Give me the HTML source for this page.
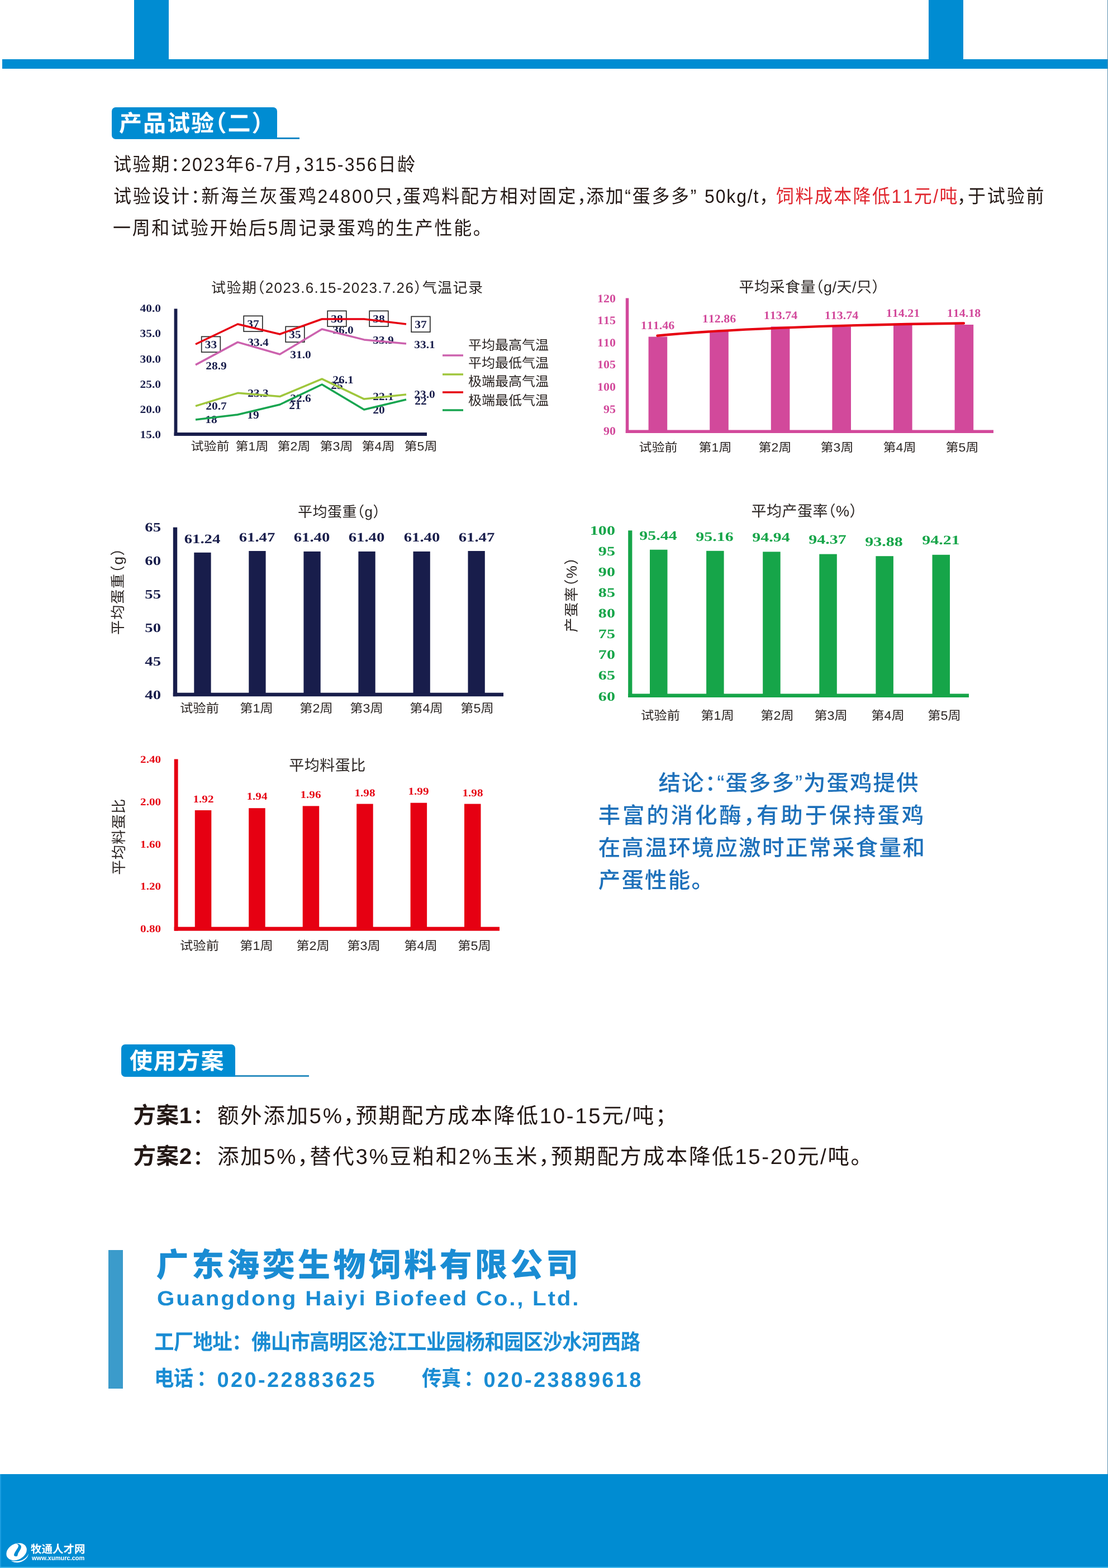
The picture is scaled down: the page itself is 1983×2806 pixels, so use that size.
<!DOCTYPE html>
<html lang="zh-CN"><head><meta charset="utf-8"><title>产品试验（二）</title>
<style>
html,body{margin:0;padding:0}
body{text-rendering:geometricPrecision;width:1983px;height:2806px;position:relative;background:#fff;font-family:"Liberation Sans","Noto Sans CJK SC",sans-serif;color:#231815}
.a{position:absolute}
.t{position:absolute;white-space:nowrap;line-height:1;letter-spacing:var(--ls,0);font-kerning:none}
.h{margin-right:-.5em}
.hr{margin-left:-.5em}
.s{font-family:"Liberation Serif",serif}
.B{font-weight:bold}
#gfx{position:absolute;left:0;top:0;z-index:1}
.t{z-index:2}
#pg{position:absolute;left:0;top:0;width:1983px;height:2806px;overflow:hidden;will-change:transform}
</style></head>
<body>
<div id="pg">
<svg id="gfx" width="1983" height="2806" viewBox="0 0 1983 2806">
<g font-family="Liberation Serif,serif" font-weight="bold" font-size="19.5" fill="#181d4b" text-anchor="middle">
<text transform="translate(377.5 622.6) scale(1.1 1)">33</text>
<text transform="translate(453 585.6) scale(1.1 1)">37</text>
<text transform="translate(528 604.6) scale(1.1 1)">35</text>
<text transform="translate(603 576.6) scale(1.1 1)">38</text>
<text transform="translate(678 576.6) scale(1.1 1)">38</text>
<text transform="translate(753 586.6) scale(1.1 1)">37</text>
<text transform="translate(387 660.6) scale(1.1 1)">28.9</text>
<text transform="translate(462 618.6) scale(1.1 1)">33.4</text>
<text transform="translate(538 641.1) scale(1.1 1)">31.0</text>
<text transform="translate(614 596.6) scale(1.1 1)">36.0</text>
<text transform="translate(686 614.6) scale(1.1 1)">33.9</text>
<text transform="translate(760 622.6) scale(1.1 1)">33.1</text>
<text transform="translate(387 732.6) scale(1.1 1)">20.7</text>
<text transform="translate(462 709.6) scale(1.1 1)">23.3</text>
<text transform="translate(538 718.6) scale(1.1 1)">22.6</text>
<text transform="translate(614 685.6) scale(1.1 1)">26.1</text>
<text transform="translate(686 715.6) scale(1.1 1)">22.1</text>
<text transform="translate(760 711.6) scale(1.1 1)">23.0</text>
<text transform="translate(378 757.1) scale(1.1 1)">18</text>
<text transform="translate(453 748.6) scale(1.1 1)">19</text>
<text transform="translate(528 731.6) scale(1.1 1)">21</text>
<text transform="translate(603 695.6) scale(1.1 1)">25</text>
<text transform="translate(678 739.6) scale(1.1 1)">20</text>
<text transform="translate(753 723.6) scale(1.1 1)">22</text>
</g>
<rect x="360.7" y="602.4" width="33.6" height="27.8" fill="none" stroke="#2a2a2a" stroke-width="1.7"/>
<rect x="436.2" y="565.4" width="33.6" height="27.8" fill="none" stroke="#2a2a2a" stroke-width="1.7"/>
<rect x="511.2" y="584.4" width="33.6" height="27.8" fill="none" stroke="#2a2a2a" stroke-width="1.7"/>
<rect x="586.2" y="556.4" width="33.6" height="27.8" fill="none" stroke="#2a2a2a" stroke-width="1.7"/>
<rect x="661.2" y="556.4" width="33.6" height="27.8" fill="none" stroke="#2a2a2a" stroke-width="1.7"/>
<rect x="736.2" y="566.4" width="33.6" height="27.8" fill="none" stroke="#2a2a2a" stroke-width="1.7"/>
<polyline points="350.0,652.9 425.4,612.4 500.8,634.0 576.2,589.0 651.6,607.9 727.0,615.1" fill="none" stroke="#cc62ae" stroke-width="3.5" stroke-linejoin="round"/>
<polyline points="350.0,726.7 425.4,703.3 500.8,709.6 576.2,678.1 651.6,714.1 727.0,706.0" fill="none" stroke="#9fc63b" stroke-width="3.5" stroke-linejoin="round"/>
<polyline points="350.0,616.0 425.4,580.0 500.8,598.0 576.2,571.0 651.6,571.0 727.0,580.0" fill="none" stroke="#e60012" stroke-width="3.5" stroke-linejoin="round"/>
<polyline points="350.0,751.0 425.4,742.0 500.8,724.0 576.2,688.0 651.6,733.0 727.0,715.0" fill="none" stroke="#18a550" stroke-width="3.5" stroke-linejoin="round"/>
<rect x="311.6" y="552.5" width="5.8" height="227.5" fill="#181d4b"/>
<rect x="311.6" y="774.0" width="452.4" height="6" fill="#181d4b"/>
<path d="M792 636H829" stroke="#cc62ae" stroke-width="3.6"/>
<path d="M792 670H829" stroke="#9fc63b" stroke-width="3.6"/>
<path d="M792 702H829" stroke="#e60012" stroke-width="3.6"/>
<path d="M792 734H829" stroke="#18a550" stroke-width="3.6"/>
<rect x="1160.6" y="602.6" width="33.6" height="169.7" fill="#d2499b"/>
<rect x="1270.2" y="591.5" width="33.6" height="180.8" fill="#d2499b"/>
<rect x="1379.8" y="584.5" width="33.6" height="187.8" fill="#d2499b"/>
<rect x="1489.4" y="584.5" width="33.6" height="187.8" fill="#d2499b"/>
<rect x="1599.0" y="580.8" width="33.6" height="191.5" fill="#d2499b"/>
<rect x="1708.6" y="581.0" width="33.6" height="191.3" fill="#d2499b"/>
<rect x="1119.8" y="533.5" width="5.5" height="241.5" fill="#d2499b"/>
<rect x="1119.8" y="769.5" width="658.2" height="5.5" fill="#d2499b"/>
<path d="M1176.5 600.8C1290 589.5 1500 581 1725 578.5" fill="none" stroke="#e60012" stroke-width="4.4" stroke-linecap="round"/>
<rect x="347.3" y="988.8" width="30.3" height="254.2" fill="#181d4b"/>
<rect x="445.3" y="986.0" width="30.3" height="257.0" fill="#181d4b"/>
<rect x="543.4" y="986.9" width="30.3" height="256.1" fill="#181d4b"/>
<rect x="641.4" y="986.9" width="30.3" height="256.1" fill="#181d4b"/>
<rect x="739.5" y="986.9" width="30.3" height="256.1" fill="#181d4b"/>
<rect x="837.5" y="986.0" width="30.3" height="257.0" fill="#181d4b"/>
<rect x="309.8" y="943.7" width="7.4" height="302.5" fill="#181d4b"/>
<rect x="309.8" y="1239.7" width="591.2" height="6.5" fill="#181d4b"/>
<rect x="1163.0" y="983.7" width="31.5" height="261.9" fill="#16a549"/>
<rect x="1264.1" y="985.8" width="31.5" height="259.8" fill="#16a549"/>
<rect x="1365.2" y="987.4" width="31.5" height="258.2" fill="#16a549"/>
<rect x="1466.3" y="991.6" width="31.5" height="254.0" fill="#16a549"/>
<rect x="1567.4" y="995.2" width="31.5" height="250.4" fill="#16a549"/>
<rect x="1668.5" y="992.8" width="31.5" height="252.8" fill="#16a549"/>
<rect x="1124.2" y="949.3" width="7.2" height="298.7" fill="#16a549"/>
<rect x="1124.2" y="1241.5" width="609.8" height="6.5" fill="#16a549"/>
<rect x="348.8" y="1450.0" width="29.5" height="212.4" fill="#e60012"/>
<rect x="445.2" y="1446.2" width="29.5" height="216.2" fill="#e60012"/>
<rect x="541.7" y="1442.4" width="29.5" height="220.0" fill="#e60012"/>
<rect x="638.2" y="1438.6" width="29.5" height="223.8" fill="#e60012"/>
<rect x="734.6" y="1436.7" width="29.5" height="225.7" fill="#e60012"/>
<rect x="831.0" y="1438.6" width="29.5" height="223.8" fill="#e60012"/>
<rect x="311.7" y="1358.5" width="6.9" height="307.2" fill="#e60012"/>
<rect x="311.7" y="1658.7" width="582.3" height="7" fill="#e60012"/>
<g transform="translate(29.6 2776.9) rotate(-28)"><ellipse cx="0" cy="0" rx="19.2" ry="14.3" fill="#fff"/></g>
<g transform="translate(0 2750) scale(0.049285)"><path d="M555 258C640 240 740 270 765 340C790 420 700 520 660 600C640 650 640 690 625 705C590 720 520 715 510 680C500 640 540 560 590 490C640 420 690 350 660 300C640 270 600 258 555 258Z" fill="#008cd2"/><path d="M1040 600C1010 690 940 790 800 850C680 895 520 900 400 872C480 935 620 955 730 925C900 875 1020 760 1040 600Z" fill="#fff"/></g>
</svg>
<div class="a" style="left:3.7px;top:106.3px;width:1979.3px;height:16.5px;background:#008cd2;"></div>
<div class="a" style="left:1981.5px;top:0.0px;width:1.5px;height:2638.2px;background:#5a8fb0;"></div>
<div class="a" style="left:240.2px;top:0.0px;width:61.6px;height:122.8px;background:#008cd2;"></div>
<div class="a" style="left:1662.0px;top:0.0px;width:62.0px;height:122.8px;background:#008cd2;"></div>
<div class="a" style="left:199.7px;top:192.0px;width:296.1px;height:57.0px;background:#008cd2;border-radius:7px 7px 0 7px"></div>
<div class="a" style="left:495.0px;top:246.4px;width:41.0px;height:2.6px;background:#1688c6;"></div>
<div class="t" style="left:213.0px;top:200.7px;font-size:41px;color:#fff;--ls:2px;font-weight:bold">产品试验<span class="hr">（</span>二<span class="h">）</span></div>
<div class="t" style="left:203.0px;top:278.1px;font-size:34px;--ls:2.4px;transform-origin:0 0;transform:scaleX(0.94)">试验期<span class="h">：</span>2023年6-7月<span class="h">，</span>315-356日龄</div>
<div class="t" style="left:203.0px;top:335.4px;font-size:34px;--ls:2.9px;transform-origin:0 0;transform:scaleX(0.94)">试验设计<span class="h">：</span>新海兰灰蛋鸡24800只<span class="h">，</span></div>
<div class="t" style="left:721.0px;top:335.4px;font-size:34px;--ls:2.9px;transform-origin:0 0;transform:scaleX(0.94)">蛋鸡料配方相对固定<span class="h">，</span></div>
<div class="t" style="left:1049.0px;top:335.4px;font-size:34px;--ls:2.9px;transform-origin:0 0;transform:scaleX(0.94)">添加“蛋多多”</div>
<div class="t" style="left:1261.0px;top:335.4px;font-size:34px;--ls:2px;transform-origin:0 0;transform:scaleX(0.94)">50kg/t<span class="h">，</span></div>
<div class="t" style="left:1388.5px;top:335.4px;font-size:34px;color:#e0262e;--ls:2.6px;transform-origin:0 0;transform:scaleX(0.94)">饲料成本降低11元/吨</div>
<div class="t" style="left:1713.0px;top:335.4px;font-size:34px;--ls:3.1px;transform-origin:0 0;transform:scaleX(0.94)"><span class="h">，</span>于试验前</div>
<div class="t" style="left:202.0px;top:392.1px;font-size:34px;--ls:2.9px;transform-origin:0 0;transform:scaleX(0.94)">一周和试验开始后5周记录蛋鸡的生产性能<span class="h">。</span></div>
<div class="t" style="left:621.7px;top:501.6px;font-size:26px;color:#2b2523;--ls:1.4px;transform:translateX(-50%)">试验期<span class="hr">（</span>2023.6.15-2023.7.26<span class="h">）</span>气温记录</div>
<div class="t s B" style="left:288.0px;top:543.3px;font-size:19.5px;color:#181d4b;transform-origin:100% 0;transform:translateX(-100%) scaleX(1.1)">40.0</div>
<div class="t s B" style="left:288.0px;top:588.4px;font-size:19.5px;color:#181d4b;transform-origin:100% 0;transform:translateX(-100%) scaleX(1.1)">35.0</div>
<div class="t s B" style="left:288.0px;top:633.5px;font-size:19.5px;color:#181d4b;transform-origin:100% 0;transform:translateX(-100%) scaleX(1.1)">30.0</div>
<div class="t s B" style="left:288.0px;top:678.6px;font-size:19.5px;color:#181d4b;transform-origin:100% 0;transform:translateX(-100%) scaleX(1.1)">25.0</div>
<div class="t s B" style="left:288.0px;top:723.7px;font-size:19.5px;color:#181d4b;transform-origin:100% 0;transform:translateX(-100%) scaleX(1.1)">20.0</div>
<div class="t s B" style="left:288.0px;top:768.8px;font-size:19.5px;color:#181d4b;transform-origin:100% 0;transform:translateX(-100%) scaleX(1.1)">15.0</div>
<div class="t" style="left:375.7px;top:789.1px;font-size:21.5px;color:#2b2523;transform-origin:50% 0;transform:translateX(-50%) scaleX(1.07)">试验前</div>
<div class="t" style="left:451.0px;top:789.1px;font-size:21.5px;color:#2b2523;transform-origin:50% 0;transform:translateX(-50%) scaleX(1.07)">第1周</div>
<div class="t" style="left:526.0px;top:789.1px;font-size:21.5px;color:#2b2523;transform-origin:50% 0;transform:translateX(-50%) scaleX(1.07)">第2周</div>
<div class="t" style="left:601.6px;top:789.1px;font-size:21.5px;color:#2b2523;transform-origin:50% 0;transform:translateX(-50%) scaleX(1.07)">第3周</div>
<div class="t" style="left:677.0px;top:789.1px;font-size:21.5px;color:#2b2523;transform-origin:50% 0;transform:translateX(-50%) scaleX(1.07)">第4周</div>
<div class="t" style="left:752.5px;top:789.1px;font-size:21.5px;color:#2b2523;transform-origin:50% 0;transform:translateX(-50%) scaleX(1.07)">第5周</div>
<div class="t" style="left:838.0px;top:606.9px;font-size:24px;color:#2b2523">平均最高气温</div>
<div class="t" style="left:838.0px;top:639.4px;font-size:24px;color:#2b2523">平均最低气温</div>
<div class="t" style="left:838.0px;top:671.9px;font-size:24px;color:#2b2523">极端最高气温</div>
<div class="t" style="left:838.0px;top:705.9px;font-size:24px;color:#2b2523">极端最低气温</div>
<div class="t" style="left:1448.5px;top:501.2px;font-size:27px;color:#2b2523;--ls:0.5px;transform:translateX(-50%)">平均采食量<span class="hr">（</span>g/天/只<span class="h">）</span></div>
<div class="t s B" style="left:1101.5px;top:524.8px;font-size:20.5px;color:#d2499b;transform-origin:100% 0;transform:translateX(-100%) scaleX(1.07)">120</div>
<div class="t s B" style="left:1101.5px;top:564.3px;font-size:20.5px;color:#d2499b;transform-origin:100% 0;transform:translateX(-100%) scaleX(1.07)">115</div>
<div class="t s B" style="left:1101.5px;top:603.9px;font-size:20.5px;color:#d2499b;transform-origin:100% 0;transform:translateX(-100%) scaleX(1.07)">110</div>
<div class="t s B" style="left:1101.5px;top:643.4px;font-size:20.5px;color:#d2499b;transform-origin:100% 0;transform:translateX(-100%) scaleX(1.07)">105</div>
<div class="t s B" style="left:1101.5px;top:683.0px;font-size:20.5px;color:#d2499b;transform-origin:100% 0;transform:translateX(-100%) scaleX(1.07)">100</div>
<div class="t s B" style="left:1101.5px;top:722.5px;font-size:20.5px;color:#d2499b;transform-origin:100% 0;transform:translateX(-100%) scaleX(1.07)">95</div>
<div class="t s B" style="left:1101.5px;top:762.1px;font-size:20.5px;color:#d2499b;transform-origin:100% 0;transform:translateX(-100%) scaleX(1.07)">90</div>
<div class="t s B" style="left:1177.4px;top:573.2px;font-size:20.5px;color:#d2499b;transform-origin:50% 0;transform:translateX(-50%) scaleX(1.07)">111.46</div>
<div class="t s B" style="left:1287.0px;top:561.1px;font-size:20.5px;color:#d2499b;transform-origin:50% 0;transform:translateX(-50%) scaleX(1.07)">112.86</div>
<div class="t s B" style="left:1396.6px;top:555.4px;font-size:20.5px;color:#d2499b;transform-origin:50% 0;transform:translateX(-50%) scaleX(1.07)">113.74</div>
<div class="t s B" style="left:1506.2px;top:555.4px;font-size:20.5px;color:#d2499b;transform-origin:50% 0;transform:translateX(-50%) scaleX(1.07)">113.74</div>
<div class="t s B" style="left:1615.8px;top:550.6px;font-size:20.5px;color:#d2499b;transform-origin:50% 0;transform:translateX(-50%) scaleX(1.07)">114.21</div>
<div class="t s B" style="left:1725.4px;top:550.6px;font-size:20.5px;color:#d2499b;transform-origin:50% 0;transform:translateX(-50%) scaleX(1.07)">114.18</div>
<div class="t" style="left:1178.0px;top:791.1px;font-size:21.5px;color:#2b2523;transform-origin:50% 0;transform:translateX(-50%) scaleX(1.07)">试验前</div>
<div class="t" style="left:1280.0px;top:791.1px;font-size:21.5px;color:#2b2523;transform-origin:50% 0;transform:translateX(-50%) scaleX(1.07)">第1周</div>
<div class="t" style="left:1387.0px;top:791.1px;font-size:21.5px;color:#2b2523;transform-origin:50% 0;transform:translateX(-50%) scaleX(1.07)">第2周</div>
<div class="t" style="left:1497.7px;top:791.1px;font-size:21.5px;color:#2b2523;transform-origin:50% 0;transform:translateX(-50%) scaleX(1.07)">第3周</div>
<div class="t" style="left:1609.7px;top:791.1px;font-size:21.5px;color:#2b2523;transform-origin:50% 0;transform:translateX(-50%) scaleX(1.07)">第4周</div>
<div class="t" style="left:1722.0px;top:791.1px;font-size:21.5px;color:#2b2523;transform-origin:50% 0;transform:translateX(-50%) scaleX(1.07)">第5周</div>
<div class="t" style="left:607.0px;top:903.4px;font-size:26px;color:#2b2523;--ls:0.5px;transform:translateX(-50%)">平均蛋重<span class="hr">（</span>g<span class="h">）</span></div>
<div class="t s B" style="left:288.0px;top:932.3px;font-size:23px;color:#181d4b;transform-origin:100% 0;transform:translateX(-100%) scaleX(1.25)">65</div>
<div class="t s B" style="left:288.0px;top:992.3px;font-size:23px;color:#181d4b;transform-origin:100% 0;transform:translateX(-100%) scaleX(1.25)">60</div>
<div class="t s B" style="left:288.0px;top:1052.3px;font-size:23px;color:#181d4b;transform-origin:100% 0;transform:translateX(-100%) scaleX(1.25)">55</div>
<div class="t s B" style="left:288.0px;top:1112.3px;font-size:23px;color:#181d4b;transform-origin:100% 0;transform:translateX(-100%) scaleX(1.25)">50</div>
<div class="t s B" style="left:288.0px;top:1172.3px;font-size:23px;color:#181d4b;transform-origin:100% 0;transform:translateX(-100%) scaleX(1.25)">45</div>
<div class="t s B" style="left:288.0px;top:1232.3px;font-size:23px;color:#181d4b;transform-origin:100% 0;transform:translateX(-100%) scaleX(1.25)">40</div>
<div class="t s B" style="left:362.3px;top:954.2px;font-size:23.2px;color:#181d4b;transform-origin:50% 0;transform:translateX(-50%) scaleX(1.24)">61.24</div>
<div class="t s B" style="left:460.3px;top:951.2px;font-size:23.2px;color:#181d4b;transform-origin:50% 0;transform:translateX(-50%) scaleX(1.24)">61.47</div>
<div class="t s B" style="left:558.4px;top:951.2px;font-size:23.2px;color:#181d4b;transform-origin:50% 0;transform:translateX(-50%) scaleX(1.24)">61.40</div>
<div class="t s B" style="left:656.4px;top:951.2px;font-size:23.2px;color:#181d4b;transform-origin:50% 0;transform:translateX(-50%) scaleX(1.24)">61.40</div>
<div class="t s B" style="left:754.5px;top:951.2px;font-size:23.2px;color:#181d4b;transform-origin:50% 0;transform:translateX(-50%) scaleX(1.24)">61.40</div>
<div class="t s B" style="left:852.5px;top:951.2px;font-size:23.2px;color:#181d4b;transform-origin:50% 0;transform:translateX(-50%) scaleX(1.24)">61.47</div>
<div class="t" style="left:357.0px;top:1257.1px;font-size:22px;color:#2b2523;transform-origin:50% 0;transform:translateX(-50%) scaleX(1.06)">试验前</div>
<div class="t" style="left:459.0px;top:1257.1px;font-size:22px;color:#2b2523;transform-origin:50% 0;transform:translateX(-50%) scaleX(1.06)">第1周</div>
<div class="t" style="left:565.6px;top:1257.1px;font-size:22px;color:#2b2523;transform-origin:50% 0;transform:translateX(-50%) scaleX(1.06)">第2周</div>
<div class="t" style="left:656.0px;top:1257.1px;font-size:22px;color:#2b2523;transform-origin:50% 0;transform:translateX(-50%) scaleX(1.06)">第3周</div>
<div class="t" style="left:763.0px;top:1257.1px;font-size:22px;color:#2b2523;transform-origin:50% 0;transform:translateX(-50%) scaleX(1.06)">第4周</div>
<div class="t" style="left:853.5px;top:1257.1px;font-size:22px;color:#2b2523;transform-origin:50% 0;transform:translateX(-50%) scaleX(1.06)">第5周</div>
<div class="t" style="left:221.0px;top:1034.6px;font-size:26px;color:#2b2523;--ls:1.7px;transform-origin:0 22.9px;transform:rotate(-90deg) translateX(-50%)">平均蛋重<span class="hr">（</span>g<span class="h">）</span></div>
<div class="t" style="left:1439.5px;top:902.2px;font-size:27px;color:#2b2523;--ls:0.5px;transform:translateX(-50%)">平均产蛋率<span class="hr">（</span>%<span class="h">）</span></div>
<div class="t s B" style="left:1101.0px;top:938.9px;font-size:23.2px;color:#16a549;transform-origin:100% 0;transform:translateX(-100%) scaleX(1.3)">100</div>
<div class="t s B" style="left:1101.0px;top:976.0px;font-size:23.2px;color:#16a549;transform-origin:100% 0;transform:translateX(-100%) scaleX(1.3)">95</div>
<div class="t s B" style="left:1101.0px;top:1013.1px;font-size:23.2px;color:#16a549;transform-origin:100% 0;transform:translateX(-100%) scaleX(1.3)">90</div>
<div class="t s B" style="left:1101.0px;top:1050.1px;font-size:23.2px;color:#16a549;transform-origin:100% 0;transform:translateX(-100%) scaleX(1.3)">85</div>
<div class="t s B" style="left:1101.0px;top:1087.2px;font-size:23.2px;color:#16a549;transform-origin:100% 0;transform:translateX(-100%) scaleX(1.3)">80</div>
<div class="t s B" style="left:1101.0px;top:1124.3px;font-size:23.2px;color:#16a549;transform-origin:100% 0;transform:translateX(-100%) scaleX(1.3)">75</div>
<div class="t s B" style="left:1101.0px;top:1161.3px;font-size:23.2px;color:#16a549;transform-origin:100% 0;transform:translateX(-100%) scaleX(1.3)">70</div>
<div class="t s B" style="left:1101.0px;top:1198.4px;font-size:23.2px;color:#16a549;transform-origin:100% 0;transform:translateX(-100%) scaleX(1.3)">65</div>
<div class="t s B" style="left:1101.0px;top:1235.5px;font-size:23.2px;color:#16a549;transform-origin:100% 0;transform:translateX(-100%) scaleX(1.3)">60</div>
<div class="t s B" style="left:1178.0px;top:948.1px;font-size:23.2px;color:#16a549;transform-origin:50% 0;transform:translateX(-50%) scaleX(1.29)">95.44</div>
<div class="t s B" style="left:1279.1px;top:950.0px;font-size:23.2px;color:#16a549;transform-origin:50% 0;transform:translateX(-50%) scaleX(1.29)">95.16</div>
<div class="t s B" style="left:1380.2px;top:951.4px;font-size:23.2px;color:#16a549;transform-origin:50% 0;transform:translateX(-50%) scaleX(1.29)">94.94</div>
<div class="t s B" style="left:1481.3px;top:955.4px;font-size:23.2px;color:#16a549;transform-origin:50% 0;transform:translateX(-50%) scaleX(1.29)">94.37</div>
<div class="t s B" style="left:1582.4px;top:958.7px;font-size:23.2px;color:#16a549;transform-origin:50% 0;transform:translateX(-50%) scaleX(1.29)">93.88</div>
<div class="t s B" style="left:1683.5px;top:956.4px;font-size:23.2px;color:#16a549;transform-origin:50% 0;transform:translateX(-50%) scaleX(1.29)">94.21</div>
<div class="t" style="left:1182.2px;top:1270.1px;font-size:22px;color:#2b2523;transform-origin:50% 0;transform:translateX(-50%) scaleX(1.06)">试验前</div>
<div class="t" style="left:1283.9px;top:1270.1px;font-size:22px;color:#2b2523;transform-origin:50% 0;transform:translateX(-50%) scaleX(1.06)">第1周</div>
<div class="t" style="left:1390.8px;top:1270.1px;font-size:22px;color:#2b2523;transform-origin:50% 0;transform:translateX(-50%) scaleX(1.06)">第2周</div>
<div class="t" style="left:1486.9px;top:1270.1px;font-size:22px;color:#2b2523;transform-origin:50% 0;transform:translateX(-50%) scaleX(1.06)">第3周</div>
<div class="t" style="left:1588.8px;top:1270.1px;font-size:22px;color:#2b2523;transform-origin:50% 0;transform:translateX(-50%) scaleX(1.06)">第4周</div>
<div class="t" style="left:1690.0px;top:1270.1px;font-size:22px;color:#2b2523;transform-origin:50% 0;transform:translateX(-50%) scaleX(1.06)">第5周</div>
<div class="t" style="left:1033.0px;top:1041.1px;font-size:26px;color:#2b2523;--ls:1.3px;transform-origin:0 22.9px;transform:rotate(-90deg) translateX(-50%)">产蛋率<span class="hr">（</span>%<span class="h">）</span></div>
<div class="t" style="left:586.0px;top:1357.0px;font-size:27px;color:#2b2523;--ls:0.5px;transform:translateX(-50%)">平均料蛋比</div>
<div class="t s B" style="left:288.0px;top:1350.8px;font-size:18.5px;color:#e60012;transform-origin:100% 0;transform:translateX(-100%) scaleX(1.14)">2.40</div>
<div class="t s B" style="left:288.0px;top:1426.6px;font-size:18.5px;color:#e60012;transform-origin:100% 0;transform:translateX(-100%) scaleX(1.14)">2.00</div>
<div class="t s B" style="left:288.0px;top:1502.5px;font-size:18.5px;color:#e60012;transform-origin:100% 0;transform:translateX(-100%) scaleX(1.14)">1.60</div>
<div class="t s B" style="left:288.0px;top:1578.3px;font-size:18.5px;color:#e60012;transform-origin:100% 0;transform:translateX(-100%) scaleX(1.14)">1.20</div>
<div class="t s B" style="left:288.0px;top:1654.2px;font-size:18.5px;color:#e60012;transform-origin:100% 0;transform:translateX(-100%) scaleX(1.14)">0.80</div>
<div class="t s B" style="left:363.5px;top:1421.7px;font-size:18.7px;color:#e60012;transform-origin:50% 0;transform:translateX(-50%) scaleX(1.13)">1.92</div>
<div class="t s B" style="left:459.9px;top:1417.4px;font-size:18.7px;color:#e60012;transform-origin:50% 0;transform:translateX(-50%) scaleX(1.13)">1.94</div>
<div class="t s B" style="left:556.4px;top:1414.0px;font-size:18.7px;color:#e60012;transform-origin:50% 0;transform:translateX(-50%) scaleX(1.13)">1.96</div>
<div class="t s B" style="left:652.9px;top:1410.7px;font-size:18.7px;color:#e60012;transform-origin:50% 0;transform:translateX(-50%) scaleX(1.13)">1.98</div>
<div class="t s B" style="left:749.3px;top:1408.3px;font-size:18.7px;color:#e60012;transform-origin:50% 0;transform:translateX(-50%) scaleX(1.13)">1.99</div>
<div class="t s B" style="left:845.8px;top:1410.7px;font-size:18.7px;color:#e60012;transform-origin:50% 0;transform:translateX(-50%) scaleX(1.13)">1.98</div>
<div class="t" style="left:357.0px;top:1681.6px;font-size:22px;color:#2b2523;transform-origin:50% 0;transform:translateX(-50%) scaleX(1.06)">试验前</div>
<div class="t" style="left:459.0px;top:1681.6px;font-size:22px;color:#2b2523;transform-origin:50% 0;transform:translateX(-50%) scaleX(1.06)">第1周</div>
<div class="t" style="left:560.4px;top:1681.6px;font-size:22px;color:#2b2523;transform-origin:50% 0;transform:translateX(-50%) scaleX(1.06)">第2周</div>
<div class="t" style="left:651.0px;top:1681.6px;font-size:22px;color:#2b2523;transform-origin:50% 0;transform:translateX(-50%) scaleX(1.06)">第3周</div>
<div class="t" style="left:752.6px;top:1681.6px;font-size:22px;color:#2b2523;transform-origin:50% 0;transform:translateX(-50%) scaleX(1.06)">第4周</div>
<div class="t" style="left:848.7px;top:1681.6px;font-size:22px;color:#2b2523;transform-origin:50% 0;transform:translateX(-50%) scaleX(1.06)">第5周</div>
<div class="t" style="left:223.0px;top:1474.0px;font-size:26.5px;color:#2b2523;--ls:0.8px;transform-origin:0 23.3px;transform:rotate(-90deg) translateX(-50%)">平均料蛋比</div>
<div class="t" style="left:1178.5px;top:1382.7px;font-size:39.5px;color:#1d70ba;--ls:2.0px;font-weight:500">结论<span class="h">：</span>“蛋多多”为蛋鸡提供</div>
<div class="t" style="left:1070.7px;top:1440.7px;font-size:39.5px;color:#1d70ba;--ls:3.8px;font-weight:500">丰富的消化酶<span class="h">，</span>有助于保持蛋鸡</div>
<div class="t" style="left:1070.7px;top:1498.7px;font-size:39.5px;color:#1d70ba;--ls:2.4px;font-weight:500">在高温环境应激时正常采食量和</div>
<div class="t" style="left:1070.7px;top:1556.7px;font-size:39.5px;color:#1d70ba;--ls:2.2px;font-weight:500">产蛋性能<span class="h">。</span></div>
<div class="a" style="left:217.3px;top:1869.2px;width:204.0px;height:58.3px;background:#008cd2;border-radius:7px 7px 0 7px"></div>
<div class="a" style="left:420.5px;top:1924.1px;width:132.7px;height:3.4px;background:#2e8fc0;"></div>
<div class="t" style="left:232.0px;top:1879.4px;font-size:41px;color:#fff;--ls:1.5px;font-weight:bold">使用方案</div>
<div class="t B" style="left:238.5px;top:1975.7px;font-size:40.5px;--ls:0.6px">方案1</div>
<div class="t" style="left:345.7px;top:1981.0px;font-size:35px;font-weight:bold">：</div>
<div class="t" style="left:389.0px;top:1979.1px;font-size:38.5px;--ls:2.65px">额外添加5%<span class="h">，</span>预期配方成本降低10-15元/吨<span class="h">；</span></div>
<div class="t B" style="left:238.5px;top:2049.2px;font-size:40.5px;--ls:0.6px">方案2</div>
<div class="t" style="left:345.7px;top:2054.5px;font-size:35px;font-weight:bold">：</div>
<div class="t" style="left:389.0px;top:2052.4px;font-size:38.5px;--ls:2.65px">添加5%<span class="h">，</span>替代3%豆粕和2%玉米<span class="h">，</span>预期配方成本降低15-20元/吨<span class="h">。</span></div>
<div class="a" style="left:193.6px;top:2237.0px;width:26.4px;height:248.0px;background:#3b9bcb;"></div>
<div class="t" style="left:279.5px;top:2236.0px;font-size:58px;color:#1a8cd3;--ls:5.4px;font-weight:900">广东海奕生物饲料有限公司</div>
<div class="t B" style="left:281.0px;top:2304.7px;font-size:37px;color:#1a8cd3;--ls:2.55px;transform-origin:0 0;transform:scaleX(1.09)">Guangdong Haiyi Biofeed Co., Ltd.</div>
<div class="t" style="left:276.3px;top:2384.4px;font-size:38.5px;color:#1a8cd3;--ls:-0.7px;transform-origin:0 0;transform:scaleX(0.92);font-weight:bold">工厂地址：佛山市高明区沧江工业园杨和园区沙水河西路</div>
<div class="t" style="left:276.3px;top:2449.1px;font-size:38.5px;color:#1a8cd3;--ls:-0.7px;transform-origin:0 0;transform:scaleX(0.92);font-weight:bold">电话</div>
<div class="t" style="left:352.0px;top:2449.1px;font-size:38.5px;color:#1a8cd3;transform-origin:0 0;transform:scaleX(0.92);font-weight:bold">：</div>
<div class="t B" style="left:388.6px;top:2450.8px;font-size:38px;color:#1a8cd3;--ls:3.35px">020-22883625</div>
<div class="t" style="left:754.5px;top:2449.1px;font-size:38.5px;color:#1a8cd3;--ls:-0.7px;transform-origin:0 0;transform:scaleX(0.92);font-weight:bold">传真</div>
<div class="t" style="left:830.0px;top:2449.1px;font-size:38.5px;color:#1a8cd3;transform-origin:0 0;transform:scaleX(0.92);font-weight:bold">：</div>
<div class="t B" style="left:865.5px;top:2450.8px;font-size:38px;color:#1a8cd3;--ls:3.35px">020-23889618</div>
<div class="a" style="left:0.0px;top:2638.2px;width:1983.0px;height:168.0px;background:#008cd2;"></div>
<div class="a" style="left:0.0px;top:2804.3px;width:1983.0px;height:1.7px;background:#45b9ee;"></div>
<div class="a" style="left:0.0px;top:2638.2px;width:2.0px;height:166.0px;background:#1b9de0;"></div>
<div class="t" style="left:55.0px;top:2764.3px;font-size:19.5px;color:#fff;font-weight:bold">牧通人才网</div>
<div class="t B" style="left:56.7px;top:2782.8px;font-size:11.8px;color:#fff;transform-origin:0 0;transform:scaleX(0.935)">www.xumurc.com</div>
</div>
</body></html>
